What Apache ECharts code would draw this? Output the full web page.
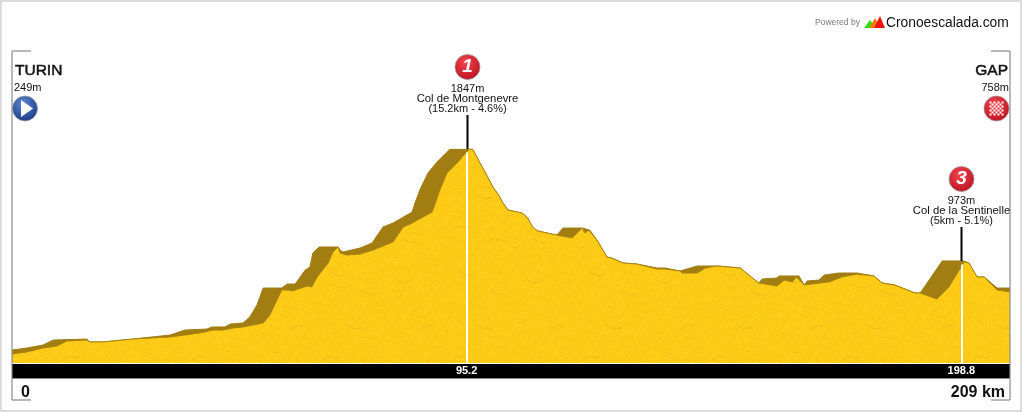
<!DOCTYPE html>
<html><head><meta charset="utf-8">
<style>html,body{margin:0;padding:0;background:#fff}#c{width:1022px;height:412px}</style>
<script src="https://cdn.jsdelivr.net/npm/echarts@6/dist/echarts.min.js"></script>
</head><body><div id="c"></div>
<script>
// Outer silhouette of the profile (km, metres): includes the shaded "climb" slopes
const upperKm=[0,3.1,6.5,8.6,15.7,16.3,19.1,25.3,33.1,36.2,40.8,41.9,44.6,45.7,48.4,49.8,51.3,52.6,56.5,57.6,59.3,61.4,62.4,63.0,64.3,68.3,68.7,69.3,72.9,75.4,77.7,79.8,83.8,84.4,85.4,87.1,89.0,91.7,96.5,98.0,99.4,100.7,101.9,102.8,103.9,106.8,108.0,109.0,110.1,114.1,115.4,119.4,121.0,122.5,124.6,125.6,128.0,130.9,135.1,136.8,139.9,140.3,143.5,147.6,152.5,154.3,156.4,157.1,160.2,160.6,164.8,165.9,166.5,169.0,170.1,173.2,177.0,180.5,182.2,184.9,189.1,190.2,194.8,199.4,200.4,202.1,203.6,206.3,209];
const upperEle=[281,297,320,359,367,344,344,367,398,437,445,461,461,484,492,539,632,765,765,796,796,905,929,1038,1085,1085,1061,1046,1077,1116,1241,1272,1358,1428,1529,1662,1748,1847,1847,1740,1646,1553,1490,1428,1373,1350,1311,1241,1210,1178,1233,1233,1217,1139,1007,999,960,952,921,921,898,890,937,937,921,866,804,835,843,859,859,788,820,827,866,882,882,859,804,788,726,726,976,976,960,851,851,765,765];
// Front face of the profile (km, metres)
const frontKm=[0,3.1,6.5,9.4,11.5,15.7,16.3,19.1,25.3,33.1,39.3,42.1,44.2,46.3,48.4,52.6,54.0,55.5,56.5,57.6,58.8,61.8,62.8,63.9,66.2,67.2,68.3,68.7,70.1,72.9,75.6,79.8,81.9,83.4,88.0,89.6,91.1,93.2,95.2,95.8,96.5,98.0,99.4,100.7,101.9,102.8,103.9,106.8,108.0,109.0,110.1,114.1,117.3,119.4,120.0,120.8,122.5,124.6,125.6,128.0,130.9,135.1,136.8,139.9,140.3,143.5,145.2,147.6,152.5,154.3,156.4,160.2,161.7,163.4,164.3,165.9,169.2,171.1,173.8,177.0,180.5,182.2,184.9,189.1,190.2,193.7,196.2,199.4,200.4,202.1,203.6,206.3,209];
const frontEle=[250,266,297,313,352,359,344,344,367,383,414,437,437,453,461,492,554,671,749,749,742,781,773,851,960,1046,1085,1038,1022,1030,1061,1124,1241,1264,1358,1529,1662,1740,1826,1847,1847,1740,1646,1553,1490,1428,1373,1350,1311,1241,1210,1178,1155,1233,1194,1217,1139,1007,999,960,952,913,913,898,882,882,921,937,921,866,804,781,827,812,851,788,804,812,851,874,859,804,788,726,726,679,773,968,960,851,851,749,734];
// Summits
const summitKm=[95.2,198.8];
const summitEle=[1847,973];
const summitCat=['1','3'];
const summitName=['Col de Montgenevre','Col de la Sentinelle'];
const summitInfo=['(15.2km - 4.6%)','(5km - 5.1%)'];
const summitHeight=['1847m','973m'];
const kmTicks=[95.2,198.8];
const startName='TURIN',startHeight='249m',finishName='GAP',finishHeight='758m';
const kmStart='0',kmEnd='209 km';

function zip(a,b){return a.map((v,i)=>[v,b[i]]);}

// Paper-like yellow texture tile for the front face (periodic dither, so no seams)
function tile(){
  const s=130,c=document.createElement('canvas');c.width=c.height=s;
  const g=c.getContext('2d');g.fillStyle='#fdcb15';g.fillRect(0,0,s,s);
  g.fillStyle='#f4c117';
  for(let y=0;y<s;y++)for(let x=0;x<s;x++){if((x*7+y*3+((x*y)%5))%13===0)g.fillRect(x,y,1,1);}
  g.fillStyle='#ffd524';
  for(let y=0;y<s;y++)for(let x=0;x<s;x++){if((x*11+y*5+((x*y)%5))%13===0)g.fillRect(x,y,1,1);}
  g.strokeStyle='#ecbb1a';g.lineWidth=1;
  const cracks=[[8,20,14,23,22,21],[70,12,78,16,84,15],[100,30,108,35,116,34],[30,70,38,65,44,67],[86,64,94,69,102,68],[12,108,20,113,26,112],[62,100,70,96,80,98],[98,112,106,108,120,113]];
  cracks.forEach(k=>{g.beginPath();g.moveTo(k[0],k[1]);g.lineTo(k[2],k[3]);g.lineTo(k[4],k[5]);g.stroke();});
  return c;
}

const chart=echarts.init(document.getElementById('c'),null,{renderer:'canvas',width:1022,height:412});
const FONT='"Liberation Sans",Arial,sans-serif';
const yMin=180,yMax=2630;

chart.setOption({
  animation:false,
  backgroundColor:'#fff',
  grid:{left:12,right:12,top:49,bottom:49,containLabel:false},
  xAxis:{type:'value',min:0,max:209,offset:8,splitLine:{show:false},
    axisLine:{show:true,lineStyle:{color:'#000',width:15,cap:'butt'}},
    axisTick:{show:false},
    axisLabel:{show:true,customValues:kmTicks,formatter:v=>String(v),margin:-6,color:'#fff',fontFamily:FONT,fontSize:11,fontWeight:'bold'}},
  yAxis:{type:'value',min:yMin,max:yMax,show:false},
  series:[
    {type:'line',name:'shade',data:zip(upperKm,upperEle),symbol:'none',z:2,
      lineStyle:{color:'#a27d12',width:1},areaStyle:{color:'#a27d12',opacity:1},silent:true},
    {type:'line',name:'front',data:zip(frontKm,frontEle),symbol:'none',z:3,
      lineStyle:{color:'#a98412',width:1},areaStyle:{color:{image:tile(),repeat:'repeat'},opacity:1},silent:true,
      markLine:{silent:true,symbol:'none',animation:false,label:{show:false},
        lineStyle:{type:'solid',cap:'butt'},
        data:summitKm.flatMap((k,i)=>[
          [{coord:[k,yMin],lineStyle:{color:'#fff',width:2}},{coord:[k,summitEle[i]-25]}]
        ])}}
  ]
});

// Annotations placed relative to the scale
function circleIcon(cx,cy,c1,c2,extra){
  return {type:'group',z:20,children:[
    {type:'circle',shape:{cx,cy,r:12.5},style:{fill:{type:'radial',x:.42,y:.32,r:.75,colorStops:[{offset:0,color:c1},{offset:1,color:c2}]},stroke:'#9a9a9a',lineWidth:.8}}
  ].concat(extra||[])};
}
const RED1='#f4454e',RED2='#b80f1e';
const g=[];
// outer frame
g.push({type:'rect',shape:{x:1,y:1,width:1020,height:410},style:{fill:'none',stroke:'#dcdcdc',lineWidth:2},z:0});
// brackets
const br='#8a8a8a';
[[12,51,31,51],[12,51,12,400],[12,400,31,400],[991,51,1010,51],[1010,51,1010,400],[991,400,1010,400],[12,378.5,1010,378.5]].forEach(l=>{
  g.push({type:'line',z:15,shape:{x1:l[0],y1:l[1],x2:l[2],y2:l[3]},style:{stroke:br,lineWidth:1.2}});
});
function txt(x,y,t,size,o){return Object.assign({type:'text',z:21,x,y,style:Object.assign({text:t,fontFamily:FONT,fontSize:size,fill:'#111',textAlign:'center',textVerticalAlign:'middle'},o||{})});}
// start / finish
g.push(txt(15,70.5,startName,15.5,{textAlign:'left',stroke:'#111',lineWidth:.5}));
g.push(txt(14,88,startHeight,11,{textAlign:'left'}));
g.push(circleIcon(25,108.5,'#5f86d6','#16357f',[{type:'polygon',shape:{points:[[21,100],[33,108.5],[21,117]]},style:{fill:'#fff'}}]));
g.push(txt(1008,70.5,finishName,15.5,{textAlign:'right',stroke:'#111',lineWidth:.5}));
g.push(txt(1009,88,finishHeight,11,{textAlign:'right'}));
const checks=[];
for(let r=0;r<7;r++)for(let c=0;c<7;c++){ if((r+c)%2===0)checks.push({type:'rect',shape:{x:989.5+c*2,y:101.5+r*2,width:2,height:2},style:{fill:'#fff'}}); }
g.push(circleIcon(996.5,108.5,RED1,RED2,checks));
// summits
summitKm.forEach((k,i)=>{
  const [x,y]=chart.convertToPixel({gridIndex:0},[k,summitEle[i]]);
  const px=Math.round(x)+.5, py=Math.round(y);
  g.push({type:'line',z:12,shape:{x1:px,y1:py-34,x2:px,y2:py},style:{stroke:'#000',lineWidth:2}});
  g.push(circleIcon(px,py-82,RED1,RED2,[{type:'text',x:px,y:py-82,style:{text:summitCat[i],fontFamily:FONT,fontSize:19,fontStyle:'italic',fontWeight:'bold',fill:'#fff',textAlign:'center',textVerticalAlign:'middle'}}]));
  g.push(txt(px,py-60,summitHeight[i],11));
  g.push(txt(px,py-50,summitName[i],11.3));
  g.push(txt(px,py-40,summitInfo[i],11));
});
// km ends
g.push(txt(21,393,kmStart,16,{textAlign:'left',fontWeight:'bold'}));
g.push(txt(1005,393,kmEnd,16,{textAlign:'right',fontWeight:'bold'}));
// credit
g.push(txt(815,23,'Powered by',8.5,{textAlign:'left',fill:'#777'}));
g.push(txt(886,23,'Cronoescalada.com',13.8,{textAlign:'left',fill:'#111'}));
[[864,28,870,20,876,28,'#2ee012'],[869,28,875,18,881,28,'#f07a10'],[874,28,880,16,885,28,'#f01010']].forEach(t=>{
  g.push({type:'polygon',z:20,shape:{points:[[t[0],t[1]],[t[2],t[3]],[t[4],t[5]]]},style:{fill:t[6]}});
});
chart.setOption({graphic:{elements:g}});
</script></body></html>
